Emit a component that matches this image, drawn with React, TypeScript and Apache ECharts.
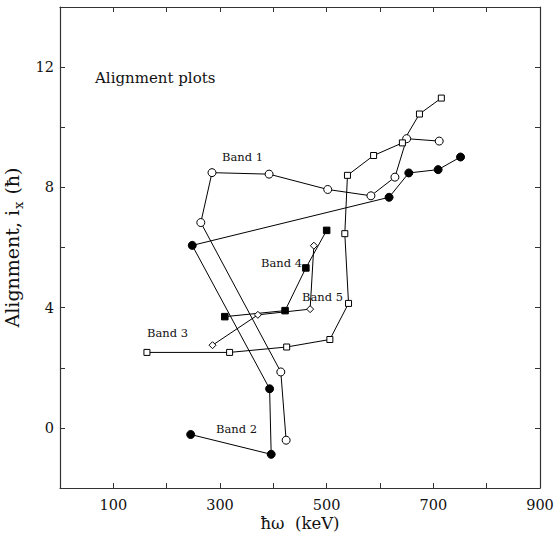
import React, { useEffect, useRef } from "react";
import * as echarts from "echarts";

const band1X = [424, 414, 264, 285, 392, 502, 583, 628, 650, 711];
const band1Y = [-0.41, 1.86, 6.83, 8.49, 8.44, 7.93, 7.72, 8.34, 9.62, 9.54];

const band2X = [245, 396, 393, 248, 617, 654, 709, 751];
const band2Y = [-0.22, -0.88, 1.3, 6.07, 7.67, 8.48, 8.59, 9.01];

const band3X = [163, 318, 425, 506, 541, 534, 539, 588, 642, 674, 715];
const band3Y = [2.51, 2.51, 2.69, 2.94, 4.14, 6.46, 8.4, 9.06, 9.48, 10.44, 10.97];

const band4X = [309, 422, 461, 500];
const band4Y = [3.7, 3.9, 5.32, 6.57];

const band5X = [286, 371, 469, 476];
const band5Y = [2.75, 3.76, 3.95, 6.06];

const xTickLabels = [100, 300, 500, 700, 900];
const yTickLabels = [0, 4, 8, 12];

const SERIF = "DejaVu Serif";

const pairs = (xs: number[], ys: number[]) => xs.map((x, i) => [x, ys[i]]);

export default function App() {
  const ref = useRef<HTMLDivElement>(null);
  useEffect(() => {
    if (!ref.current) return;
    const chart = echarts.init(ref.current, undefined, { renderer: "svg" });
    const axisLine = { show: true, onZero: false, lineStyle: { color: "#333", width: 1.2 } };
    const tick = { show: true, inside: true, length: 5, lineStyle: { color: "#333", width: 1 } };
    const lineBase = {
      type: "line" as const,
      lineStyle: { color: "#000", width: 1 },
      xAxisIndex: 0,
      yAxisIndex: 0,
    };
    const openStyle = { color: "#fff", borderColor: "#000", borderWidth: 1 };
    const fillStyle = { color: "#000", borderColor: "#000", borderWidth: 1 };
    const bandLabel = (text: string, x: number, y: number) => ({
      type: "text",
      left: x,
      top: y,
      style: { text, fontFamily: SERIF, fontSize: 11.5, fill: "#111" },
    });
    chart.setOption({
      animation: false,
      backgroundColor: "#fff",
      grid: { left: 60, right: 14, top: 7, bottom: 46, outerBoundsMode: "none" },
      xAxis: [
        {
          type: "value",
          min: 0,
          max: 900,
          interval: 100,
          position: "bottom",
          axisLine,
          axisTick: tick,
          splitLine: { show: false },
          axisLabel: {
            margin: 9,
            fontFamily: SERIF,
            fontSize: 14.5,
            lineHeight: 15,
            color: "#111",
            showMaxLabel: true,
            formatter: (v: number) => (xTickLabels.includes(v) ? String(v) : ""),
          },
          name: "ħω  (keV)",
          nameLocation: "middle",
          nameMoveOverlap: false,
          nameGap: 26,
          nameTextStyle: { fontFamily: SERIF, fontSize: 16.5, lineHeight: 18, color: "#111" },
        },
        {
          type: "value",
          min: 0,
          max: 900,
          interval: 100,
          position: "top",
          axisLine,
          axisTick: tick,
          splitLine: { show: false },
          axisLabel: { show: false },
        },
      ],
      yAxis: [
        {
          type: "value",
          min: -2,
          max: 14,
          interval: 2,
          position: "left",
          axisLine,
          axisTick: tick,
          splitLine: { show: false },
          axisLabel: {
            margin: 6,
            fontFamily: SERIF,
            fontSize: 14.5,
            color: "#111",
            formatter: (v: number) => (yTickLabels.includes(v) ? String(v) : ""),
          },
          name: "Alignment, i{s|x} (ħ)",
          nameLocation: "middle",
          nameGap: 24,
          nameTextStyle: {
            fontFamily: SERIF,
            fontSize: 19,
            color: "#111",
            rich: {
              s: { fontFamily: SERIF, fontSize: 13, color: "#111", padding: [12, 1, 0, 1] },
            },
          },
        },
        {
          type: "value",
          min: -2,
          max: 14,
          interval: 2,
          position: "right",
          axisLine,
          axisTick: tick,
          splitLine: { show: false },
          axisLabel: { show: false },
        },
      ],
      graphic: [
        {
          type: "text",
          left: 95,
          top: 70,
          style: { text: "Alignment plots", fontFamily: SERIF, fontSize: 15, fill: "#111" },
        },
        bandLabel("Band 1", 222, 151),
        bandLabel("Band 4", 261, 257),
        bandLabel("Band 5", 302, 291),
        bandLabel("Band 3", 147, 327),
        bandLabel("Band 2", 216, 423),
      ],
      series: [
        {
          ...lineBase,
          name: "Band 1",
          data: pairs(band1X, band1Y),
          symbol: "circle",
          symbolSize: 8,
          itemStyle: openStyle,
        },
        {
          ...lineBase,
          name: "Band 2",
          data: pairs(band2X, band2Y),
          symbol: "circle",
          symbolSize: 8,
          itemStyle: fillStyle,
        },
        {
          ...lineBase,
          name: "Band 3",
          data: pairs(band3X, band3Y),
          symbol: "rect",
          symbolSize: 6,
          itemStyle: openStyle,
        },
        {
          ...lineBase,
          name: "Band 4",
          data: pairs(band4X, band4Y),
          symbol: "rect",
          symbolSize: 6.5,
          itemStyle: fillStyle,
        },
        {
          ...lineBase,
          name: "Band 5",
          data: pairs(band5X, band5Y),
          symbol: "diamond",
          symbolSize: 7,
          itemStyle: openStyle,
        },
      ],
    });
    return () => chart.dispose();
  }, []);
  return (
    <div
      ref={ref}
      style={{ position: "fixed", left: 0, top: 0, width: 554, height: 534, background: "#fff" }}
    />
  );
}
